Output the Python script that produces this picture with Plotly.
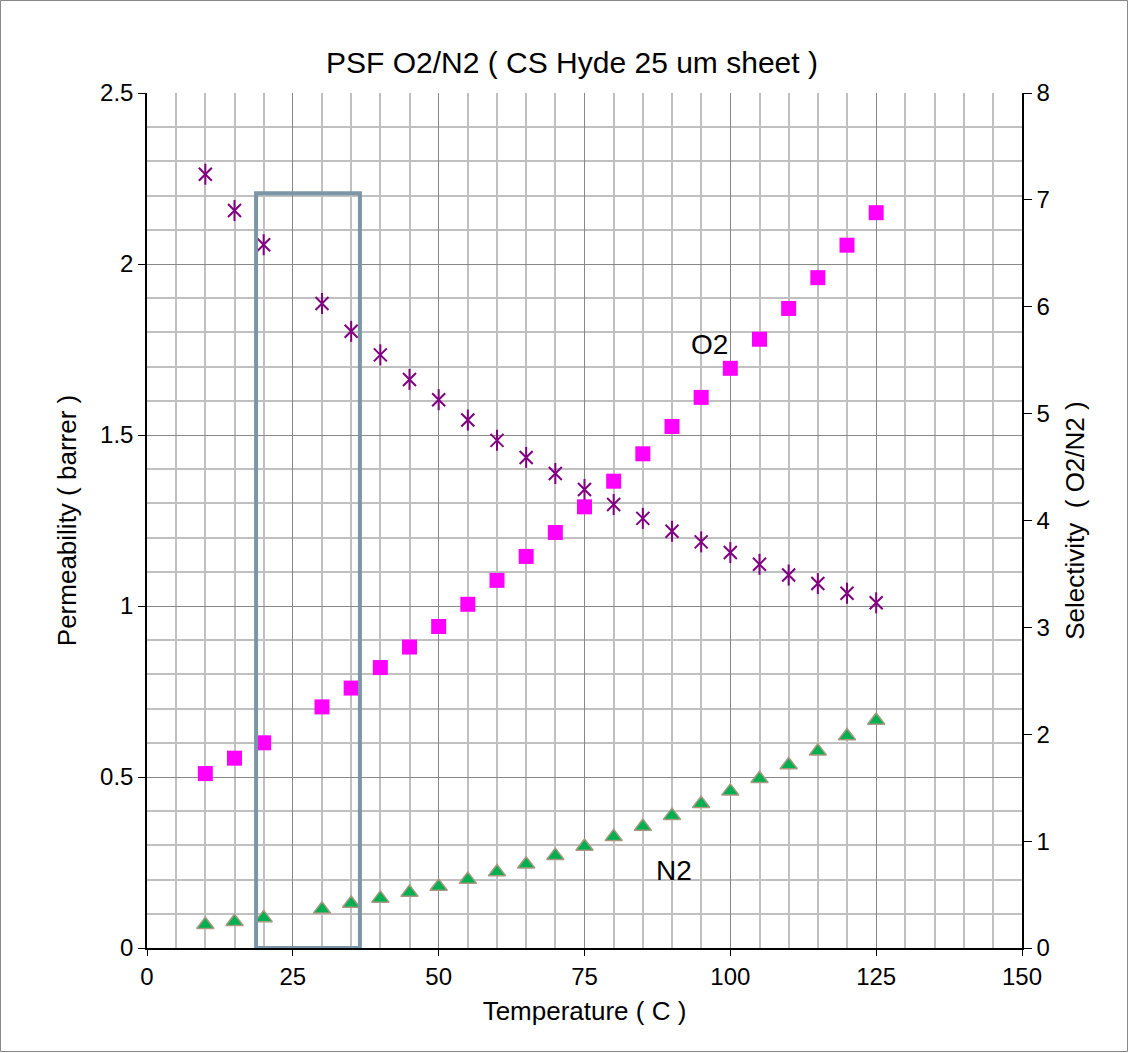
import plotly.graph_objects as go

temperature = [10, 15, 20, 30, 35, 40, 45, 50, 55, 60, 65, 70, 75, 80, 85, 90, 95, 100, 105, 110, 115, 120, 125]
o2_perm = [0.51, 0.555, 0.60, 0.705, 0.76, 0.82, 0.88, 0.94, 1.005, 1.075, 1.145, 1.215, 1.29, 1.365,
           1.445, 1.525, 1.61, 1.695, 1.78, 1.87, 1.96, 2.055, 2.15]
n2_perm = [0.068, 0.077, 0.088, 0.113, 0.13, 0.145, 0.162, 0.18, 0.2, 0.222, 0.245, 0.27, 0.297, 0.325,
           0.355, 0.387, 0.422, 0.458, 0.495, 0.535, 0.575, 0.62, 0.665]
selectivity = [7.24, 6.90, 6.58, 6.03, 5.77, 5.55, 5.32, 5.13, 4.94, 4.75, 4.59, 4.44, 4.29, 4.15,
               4.02, 3.90, 3.80, 3.70, 3.59, 3.49, 3.41, 3.32, 3.23]

highlight_x = [18.7, 36.5]
highlight_y = [0.0, 2.207]

FONT = "Liberation Sans, Arial, sans-serif"

fig = go.Figure()

fig.add_trace(go.Scatter(x=temperature, y=o2_perm, mode="markers", name="O2",
                         marker=dict(symbol="square", size=15, color="#FF00FF",
                                     line=dict(width=0))))
fig.add_trace(go.Scatter(x=temperature, y=n2_perm, mode="markers", name="N2",
                         marker=dict(symbol="triangle-up", size=15, color="#00B050",
                                     line=dict(width=1.5, color="#A89880"))))
fig.add_trace(go.Scatter(x=temperature, y=selectivity, mode="markers", name="Selectivity",
                         yaxis="y2",
                         marker=dict(symbol="x-thin-open", size=13, color="#800080",
                                     line=dict(width=2, color="#800080"))))
fig.add_trace(go.Scatter(x=temperature, y=selectivity, mode="markers", name="Selectivity2",
                         yaxis="y2", showlegend=False,
                         marker=dict(symbol="line-ns-open", size=15, color="#800080",
                                     line=dict(width=2, color="#800080"))))

# highlight rectangle
fig.add_shape(type="rect", xref="x", yref="y",
              x0=highlight_x[0], x1=highlight_x[1], y0=highlight_y[0], y1=highlight_y[1],
              line=dict(color="#7B96A6", width=4), fillcolor="rgba(0,0,0,0)", layer="above")

# outer chart border
L, R, T, B = 147, 107, 93, 105
W, H = 1129, 1053
pw, ph = W - L - R, H - T - B
fig.add_shape(type="rect", xref="paper", yref="paper",
              x0=(0.5 - L) / pw, x1=(W - 1.5 - L) / pw,
              y0=-(B - 1.5) / ph, y1=1 + (T - 0.5) / ph,
              line=dict(color="#888888", width=1), fillcolor="rgba(0,0,0,0)")

fig.add_annotation(x=96.5, y=1.765, text="O2", showarrow=False, xref="x", yref="y",
                   font=dict(size=28, color="black", family=FONT))
fig.add_annotation(x=90.3, y=0.228, text="N2", showarrow=False, xref="x", yref="y",
                   font=dict(size=28, color="black", family=FONT))

fig.update_layout(
    width=W, height=H,
    margin=dict(l=L, r=R, t=T, b=B),
    paper_bgcolor="white", plot_bgcolor="white",
    showlegend=False,
    font=dict(family=FONT, size=24, color="black"),
    title=dict(text="PSF O2/N2 ( CS Hyde 25 um sheet )", x=(572 - L) / pw, xanchor="center",
               xref="paper", y=1 - 62 / H, yanchor="middle",
               font=dict(size=30, family=FONT, color="black")),
    xaxis=dict(range=[0, 150], dtick=25, tick0=0, showgrid=True, gridcolor="#888888", gridwidth=1.2,
               minor=dict(dtick=5, showgrid=True, gridcolor="#C0C0C0", gridwidth=2),
               showline=True, linecolor="black", linewidth=1.5, ticks="outside", ticklen=6,
               tickcolor="black", zeroline=False, tickfont=dict(size=24),
               title=dict(text="Temperature ( C )", font=dict(size=26, family=FONT), standoff=13)),
    yaxis=dict(range=[0, 2.5], dtick=0.5, tick0=0, showgrid=True, gridcolor="#888888", gridwidth=1.2,
               minor=dict(dtick=0.1, showgrid=True, gridcolor="#C0C0C0", gridwidth=2),
               showline=True, linecolor="black", linewidth=1.5, ticks="outside", ticklen=7,
               tickcolor="black", zeroline=False, tickfont=dict(size=24),
               title=dict(text="Permeability ( barrer )", font=dict(size=26, family=FONT), standoff=16)),
    yaxis2=dict(range=[0, 8], dtick=1, tick0=0, overlaying="y", side="right", showgrid=False,
                showline=True, linecolor="black", linewidth=1.5, ticks="outside", ticklen=8,
                tickcolor="black", zeroline=False, tickfont=dict(size=24),
                title=dict(text="Selectivity  ( O2/N2 )", font=dict(size=26, family=FONT), standoff=17)),
)

fig.write_html("out.html", config={"displayModeBar": False},
               post_script="document.body.style.margin='0';")
